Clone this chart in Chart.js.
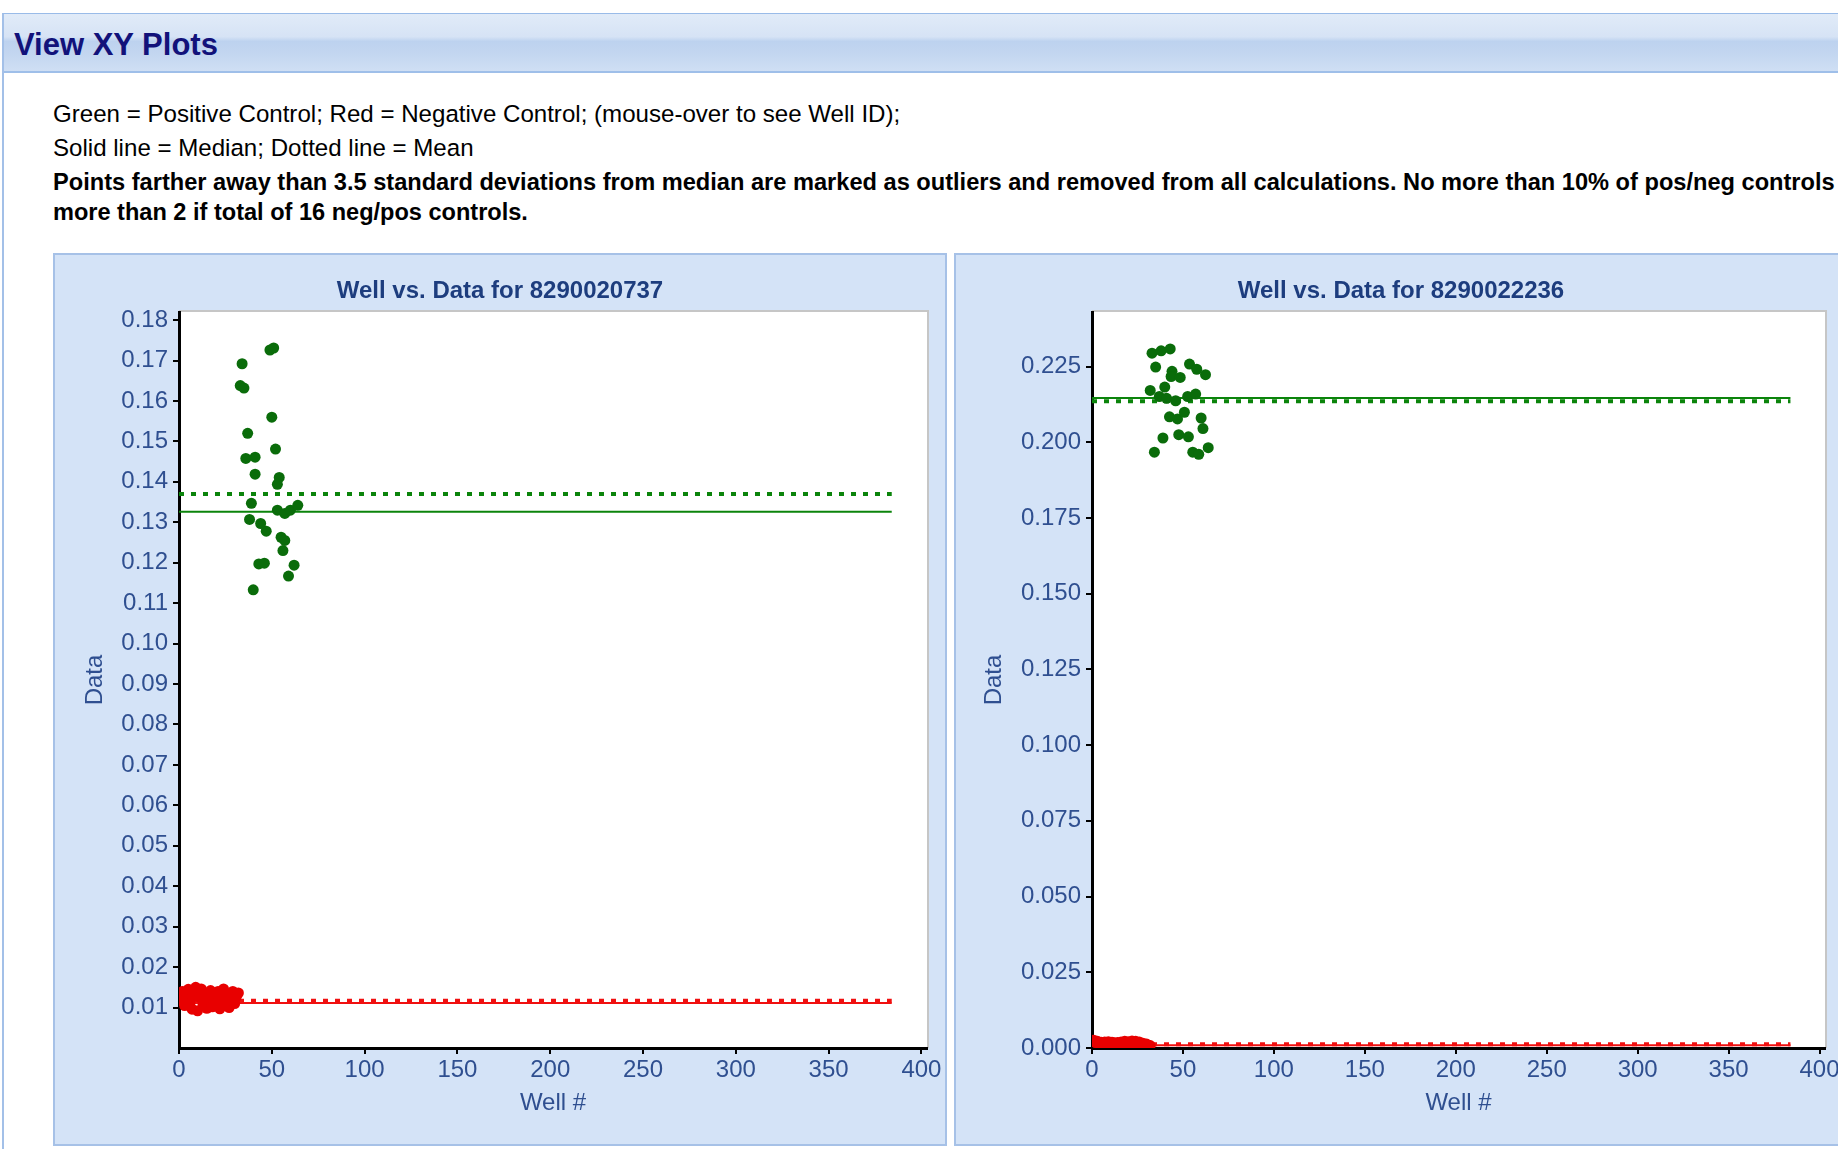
<!DOCTYPE html>
<html>
<head>
<meta charset="utf-8">
<script src="https://cdn.jsdelivr.net/npm/chart.js@4.4.1/dist/chart.umd.min.js"></script>
<style>
html,body{margin:0;padding:0;background:#fff;overflow:hidden;width:1838px;height:1149px;}
body{position:relative;font-family:"Liberation Sans",Arial,Helvetica,sans-serif;}
.frame{position:absolute;left:2px;top:13px;width:1900px;height:1200px;border-left:2px solid #a3c0e8;border-top:1px solid #99bbe8;}
.hdr{position:absolute;left:4px;top:14px;width:1900px;height:57px;border-bottom:2px solid #9fbfe9;
  background:linear-gradient(to bottom,#e1ebf8 0%,#d6e3f5 40%,#bdd2ef 48%,#c3d6f0 70%,#cfdff4 100%);}
.hdr span{position:absolute;left:10px;top:13px;font-weight:bold;font-size:31px;line-height:36px;color:#12127a;white-space:nowrap;}
.line{position:absolute;left:53px;font-size:24.1px;line-height:30px;white-space:nowrap;color:#000;}
.b{font-weight:bold;font-size:23.62px;}
.panel{position:absolute;top:253px;width:890px;height:889px;border:2px solid #a6c1e7;background:#d4e3f7;}
canvas{position:absolute;}
</style>
</head>
<body>
<div class="frame"></div>
<div class="hdr"><span>View XY Plots</span></div>
<div class="line" style="top:99px">Green = Positive Control; Red = Negative Control; (mouse-over to see Well ID);</div>
<div class="line" style="top:133px">Solid line = Median; Dotted line = Mean</div>
<div class="line b" style="top:167px">Points farther away than 3.5 standard deviations from median are marked as outliers and removed from all calculations. No more than 10% of pos/neg controls</div>
<div class="line b" style="top:197px;font-size:23.55px">more than 2 if total of 16 neg/pos controls.</div>
<div class="panel" style="left:53px"></div>
<div class="panel" style="left:954px"></div>
<canvas id="c1" width="890" height="890" style="left:55px;top:255px;width:890px;height:890px"></canvas>
<canvas id="c2" width="890" height="890" style="left:956px;top:255px;width:890px;height:890px"></canvas>
<script>
// ---------- data ----------
const xTicks = [0, 50, 100, 150, 200, 250, 300, 350, 400];
const lineSpan = [0, 384];

// Plate 1
const title1 = 'Well vs. Data for 8290020737';
const yTicks1 = [0.01,0.02,0.03,0.04,0.05,0.06,0.07,0.08,0.09,0.10,0.11,0.12,0.13,0.14,0.15,0.16,0.17,0.18];
const pos1Wells  = [34,33,35,49,51,50,37,52,36,41,41,54,53,39,38,44,47,53,57,60,64,55,57,56,43,46,62,59,40];
const pos1Values = [0.1692,0.1638,0.1632,0.1726,0.1731,0.1560,0.1520,0.1481,0.1458,0.1461,0.1419,0.1411,0.1394,0.1347,0.1307,0.1297,0.1278,0.1330,0.1322,0.1330,0.1342,0.1263,0.1255,0.1230,0.1197,0.1199,0.1194,0.1167,0.1133];
const neg1Wells  = [1,2,3,4,5,6,7,8,9,10,11,12,13,14,15,16,17,18,19,20,21,22,23,24,25,26,27,28,29,30,31,32];
const neg1Values = [0.0118,0.0140,0.0105,0.0128,0.0145,0.0112,0.0096,0.0132,0.0150,0.0092,0.0125,0.0146,0.0108,0.0136,0.0098,0.0120,0.0142,0.0102,0.0130,0.0112,0.0140,0.0097,0.0124,0.0146,0.0105,0.0133,0.0100,0.0118,0.0140,0.0110,0.0128,0.0136];
const pos1Median = 0.1326, pos1Mean = 0.1370;
const neg1Median = 0.0111, neg1Mean = 0.0117;

// Plate 2
const title2 = 'Well vs. Data for 8290022236';
const yTicks2 = [0,0.025,0.05,0.075,0.1,0.125,0.15,0.175,0.2,0.225];
const pos2Wells  = [33,38,43,35,44,43.5,48.5,53.6,57.6,62.4,32,40,37,41,46,52.6,57,42.6,47,50.8,60,61,39,47.7,53,34.3,55.4,58.7,63.9];
const pos2Values = [0.2294,0.2302,0.2308,0.2248,0.2234,0.2217,0.2214,0.2258,0.2241,0.2223,0.2171,0.2182,0.2151,0.2145,0.2137,0.2151,0.2159,0.2084,0.2077,0.2099,0.2080,0.2045,0.2014,0.2025,0.2018,0.1967,0.1967,0.1960,0.1982];
const neg2Wells  = [1,2,3,4,5,6,7,8,9,10,11,12,13,14,15,16,17,18,19,20,21,22,23,24,25,26,27,28,29,30,31,32];
const neg2Values = [0.0026,0.0018,0.0022,0.0015,0.0019,0.0012,0.0020,0.0016,0.0021,0.0013,0.0019,0.0017,0.0011,0.0018,0.0014,0.0020,0.0016,0.0022,0.0013,0.0021,0.0017,0.0023,0.0015,0.0022,0.0018,0.0020,0.0012,0.0016,0.0010,0.0013,0.0009,0.0008];
const pos2Median = 0.2146, pos2Mean = 0.2135;
const neg2Median = 0.0009, neg2Mean = 0.0012;

// ---------- styling ----------
const FAMILY = '"Liberation Sans", Arial, Helvetica, sans-serif';
const GREEN_PT = '#0a6c0a', GREEN_LN = '#0b840b';
const RED_PT = '#e80000', RED_LN = '#f01010';
const TICK_COLOR = '#2f4f90', TITLE_COLOR = '#1d3d7e';

const plotBg = {
  id: 'plotBg',
  beforeDraw(chart) {
    const {ctx, chartArea: a} = chart;
    ctx.save();
    ctx.fillStyle = '#ffffff';
    ctx.fillRect(a.left, a.top, a.right - a.left, a.bottom - a.top);
    ctx.strokeStyle = '#c6c6c6';
    ctx.lineWidth = 2;
    ctx.beginPath();
    ctx.moveTo(a.left, a.top - 1);
    ctx.lineTo(a.right + 1, a.top - 1);
    ctx.lineTo(a.right + 1, a.bottom);
    ctx.stroke();
    ctx.restore();
  }
};

function pts(xs, ys) { return xs.map((x, i) => ({x: x, y: ys[i]})); }
function hline(v) { return lineSpan.map(x => ({x: x, y: v})); }

function build(id, title, yTicks, yMax, dec, yW, yTitlePad, d) {
  const common = {xAxisID: 'x', yAxisID: 'y'};
  new Chart(document.getElementById(id), {
    type: 'scatter',
    data: {
      datasets: [
        Object.assign({data: pts(d.pw, d.pv), backgroundColor: GREEN_PT, borderWidth: 0, pointRadius: 5.5, pointHoverRadius: 5.5}, common),
        Object.assign({data: pts(d.nw, d.nv), backgroundColor: RED_PT, borderWidth: 0, pointRadius: 5.5, pointHoverRadius: 5.5}, common),
        Object.assign({data: hline(d.pMed), showLine: true, borderColor: GREEN_LN, borderWidth: 2, pointRadius: 0}, common),
        Object.assign({data: hline(d.pMean), showLine: true, borderColor: GREEN_LN, borderWidth: 4, borderDash: [5, 7], borderCapStyle: 'butt', pointRadius: 0}, common),
        Object.assign({data: hline(d.nMed), showLine: true, borderColor: RED_LN, borderWidth: 2, pointRadius: 0}, common),
        Object.assign({data: hline(d.nMean), showLine: true, borderColor: RED_LN, borderWidth: 4, borderDash: [5, 7], borderCapStyle: 'butt', pointRadius: 0}, common)
      ]
    },
    options: {
      responsive: false,
      animation: false,
      devicePixelRatio: 1,
      layout: {padding: 0},
      plugins: {
        legend: {display: false},
        tooltip: {enabled: false},
        title: {display: true, text: title, color: TITLE_COLOR,
          font: {family: FAMILY, size: 24, weight: 'bold'}, padding: {top: 21.6, bottom: 6.6}}
      },
      scales: {
        x: {
          type: 'linear', min: 0, max: 403,
          afterBuildTicks: s => { s.ticks = xTicks.map(v => ({value: v})); },
          afterFit: s => { s.height = 97; },
          ticks: {color: TICK_COLOR, font: {family: FAMILY, size: 24}, padding: 2, maxRotation: 0,
            callback: v => String(v)},
          grid: {drawOnChartArea: false, drawTicks: true, tickLength: 6, color: '#000', lineWidth: 2},
          border: {display: true, color: '#000', width: 3},
          title: {display: true, text: 'Well #', color: TICK_COLOR, font: {family: FAMILY, size: 24},
            padding: {top: 0, bottom: 27.6}}
        },
        y: {
          type: 'linear', position: 'left', min: 0, max: yMax,
          afterBuildTicks: s => { s.ticks = yTicks.map(v => ({value: v})); },
          afterFit: s => { s.width = yW; },
          ticks: {color: TICK_COLOR, font: {family: FAMILY, size: 24}, padding: 5,
            callback: v => Number(v).toFixed(dec)},
          grid: {drawOnChartArea: false, drawTicks: true, tickLength: 6, color: '#000', lineWidth: 2},
          border: {display: true, color: '#000', width: 3},
          title: {display: true, text: 'Data', color: TICK_COLOR, font: {family: FAMILY, size: 24},
            padding: {top: yTitlePad, bottom: 0}}
        },
        yR: {
          type: 'linear', position: 'right', display: true, min: 0, max: 1,
          afterFit: s => { s.width = d.rightPad; },
          ticks: {display: false},
          grid: {display: false, drawTicks: false},
          border: {display: false}
        }
      }
    },
    plugins: [plotBg]
  });
}

build('c1', title1, yTicks1, 0.182, 2, 124, 25.6, {
  pw: pos1Wells, pv: pos1Values, nw: neg1Wells, nv: neg1Values,
  pMed: pos1Median, pMean: pos1Mean, nMed: neg1Median, nMean: neg1Mean, rightPad: 18
});
build('c2', title2, yTicks2, 0.243, 3, 136, 23.6, {
  pw: pos2Wells, pv: pos2Values, nw: neg2Wells, nv: neg2Values,
  pMed: pos2Median, pMean: pos2Mean, nMed: neg2Median, nMean: neg2Mean, rightPad: 21
});
</script>
</body>
</html>
